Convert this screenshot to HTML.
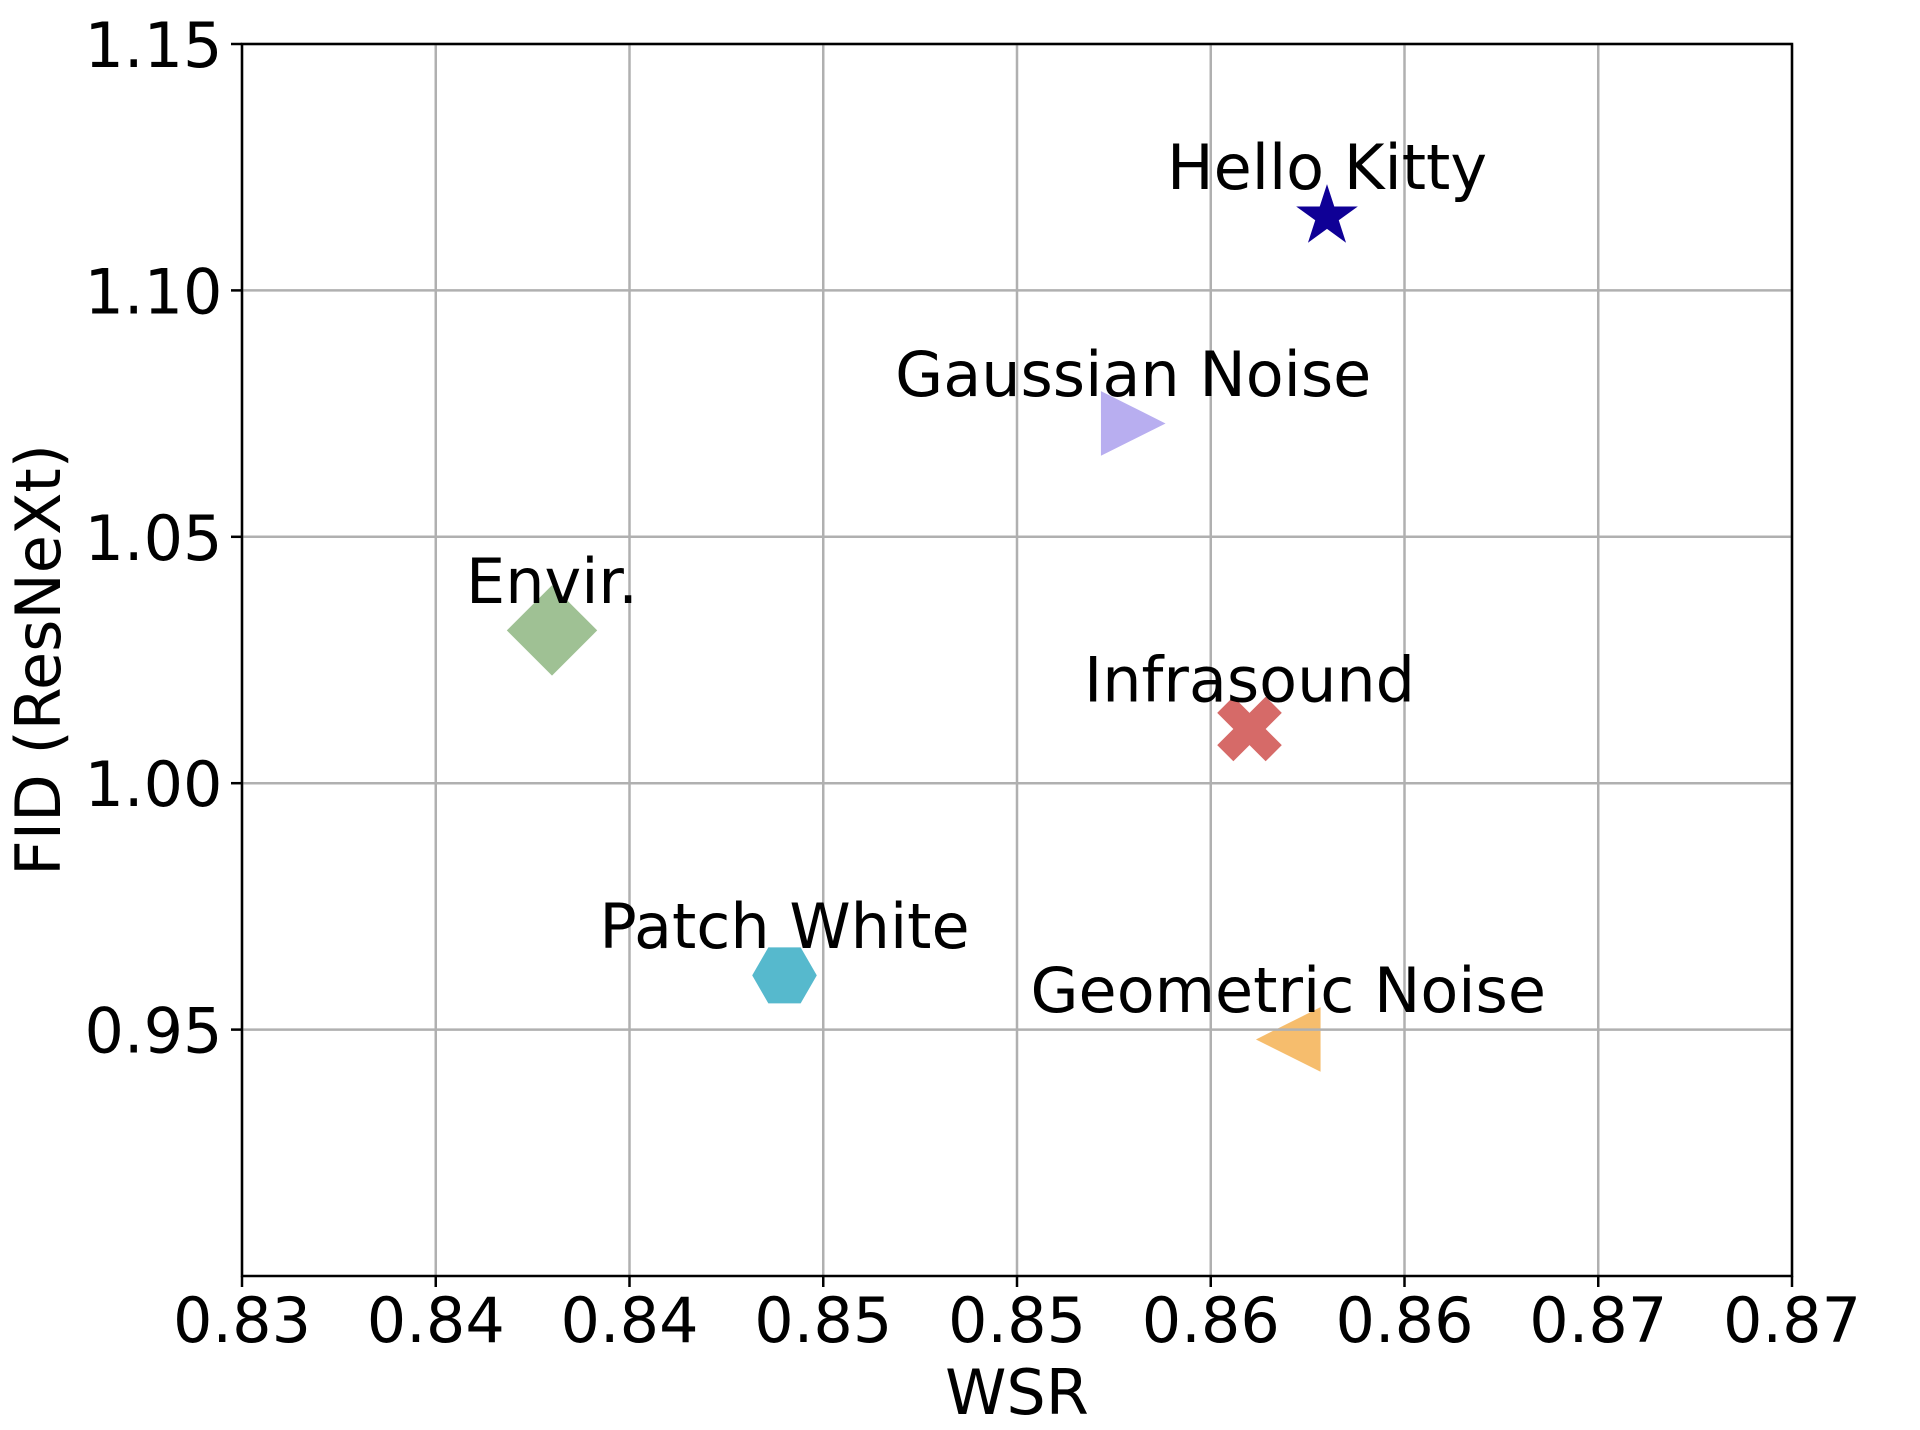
<!DOCTYPE html>
<html lang="en">
<head>
<meta charset="utf-8">
<title>WSR vs FID (ResNeXt)</title>
<style>
  html, body { margin: 0; padding: 0; background: #ffffff; }
  svg { display: block; }
  text { font-family: "DejaVu Sans", "Liberation Sans", sans-serif; font-size: 62px; fill: #000; }
</style>
</head>
<body>
<svg id="chart" xmlns="http://www.w3.org/2000/svg" width="1920" height="1430" viewBox="0 0 1920 1430"></svg>
<script>
const methods = ["Hello Kitty", "Gaussian Noise", "Envir.", "Infrasound", "Patch White", "Geometric Noise"];
const wsrValues = [0.858, 0.853, 0.838, 0.856, 0.844, 0.857];
const fidValues = [1.115, 1.073, 1.031, 1.011, 0.961, 0.948];
const markerKinds = ["star", "triangleRight", "diamond", "xFilled", "hexagon", "triangleLeft"];
const markerColors = ["#0f0096", "#b8aef0", "#9fc194", "#d66a68", "#56b9cd", "#f6bd6d"];
const xTicks = [0.83, 0.835, 0.84, 0.845, 0.85, 0.855, 0.86, 0.865, 0.87];
const xTickLabels = ["0.83", "0.84", "0.84", "0.85", "0.85", "0.86", "0.86", "0.87", "0.87"];
const yTicks = [0.95, 1.00, 1.05, 1.10, 1.15];
const yTickLabels = ["0.95", "1.00", "1.05", "1.10", "1.15"];

const plotLeft = 242, plotRight = 1792, plotTop = 44, plotBottom = 1276;
const xMin = 0.83, xMax = 0.87, yMin = 0.90, yMax = 1.15;
const lineW = 2.5, gridColor = "#b0b0b0";
const xScale = v => plotLeft + (v - xMin) / (xMax - xMin) * (plotRight - plotLeft);
const yScale = v => plotBottom - (v - yMin) / (yMax - yMin) * (plotBottom - plotTop);

const svg = document.getElementById("chart");
const NS = "http://www.w3.org/2000/svg";
function make(tag, attrs, parent) {
  const el = document.createElementNS(NS, tag);
  for (const k in attrs) el.setAttribute(k, attrs[k]);
  (parent || svg).appendChild(el);
  return el;
}
function markerPoints(kind, cx, cy) {
  const r = 32.3;
  let pts = [];
  if (kind === "star") {
    const R = 32.4, inner = R * 0.381966;
    for (let i = 0; i < 10; i++) {
      const a = Math.PI * i / 5, rad = i % 2 ? inner : R;
      pts.push([cx + rad * Math.sin(a), cy - rad * Math.cos(a)]);
    }
  } else if (kind === "triangleRight") {
    pts = [[cx + r, cy], [cx - r, cy - r], [cx - r, cy + r]];
  } else if (kind === "triangleLeft") {
    pts = [[cx - r, cy], [cx + r, cy - r], [cx + r, cy + r]];
  } else if (kind === "diamond") {
    const d = 45.2;
    pts = [[cx, cy - d], [cx + d, cy], [cx, cy + d], [cx - d, cy]];
  } else if (kind === "xFilled") {
    const u = r / 2;
    pts = [[-1,-2],[0,-1],[1,-2],[2,-1],[1,0],[2,1],[1,2],[0,1],[-1,2],[-2,1],[-1,0],[-2,-1]]
      .map(p => [cx + p[0] * u, cy + p[1] * u]);
  } else if (kind === "hexagon") {
    for (let i = 0; i < 6; i++) {
      const a = Math.PI * i / 3;
      pts.push([cx + r * Math.cos(a), cy + r * Math.sin(a)]);
    }
  }
  return pts.map(p => p[0].toFixed(2) + "," + p[1].toFixed(2)).join(" ");
}

/* background */
const bg = make("rect", { x: 0, y: 0, width: 1920, height: 1430, fill: "#ffffff" });



/* markers sit beneath the grid */
methods.forEach((m, i) => {
  const poly = make("polygon", {
    points: markerPoints(markerKinds[i], xScale(wsrValues[i]), yScale(fidValues[i])),
    fill: markerColors[i]
  });
  
  
});

/* grid and ticks */
xTicks.forEach((t, i) => {
  const x = xScale(t);
  const g = make("line", { x1: x, x2: x, y1: plotTop, y2: plotBottom, stroke: gridColor, "stroke-width": lineW });
  
  
  const tick = make("line", { x1: x, x2: x, y1: plotBottom, y2: plotBottom + 11, stroke: "#000", "stroke-width": lineW });
  
  
  const lab = make("text", { x: x, y: 1342, "text-anchor": "middle" });
  lab.textContent = xTickLabels[i];
  
  
});
yTicks.forEach((t, i) => {
  const y = yScale(t);
  const g = make("line", { x1: plotLeft, x2: plotRight, y1: y, y2: y, stroke: gridColor, "stroke-width": lineW });
  
  
  const tick = make("line", { x1: plotLeft - 11, x2: plotLeft, y1: y, y2: y, stroke: "#000", "stroke-width": lineW });
  
  
  const lab = make("text", { x: 222.5, y: y + 23, "text-anchor": "end" });
  lab.textContent = yTickLabels[i];
  
  
});

/* spines */
const frame = make("rect", {
  x: plotLeft, y: plotTop, width: plotRight - plotLeft, height: plotBottom - plotTop,
  fill: "none", stroke: "#000", "stroke-width": lineW
});



/* point labels */
methods.forEach((m, i) => {
  const t = make("text", { x: xScale(wsrValues[i]), y: yScale(fidValues[i]) - 27.3, "text-anchor": "middle" });
  t.textContent = m;
  
  
});

/* axis titles */
const xTitle = make("text", { x: (plotLeft + plotRight) / 2, y: 1414, "text-anchor": "middle" });
xTitle.textContent = "WSR";


const yTitle = make("text", {
  x: 0, y: 0, "text-anchor": "middle",
  transform: "translate(60 " + (plotTop + plotBottom) / 2 + ") rotate(-90)"
});
yTitle.textContent = "FID (ResNeXt)";


</script>
</body>
</html>
